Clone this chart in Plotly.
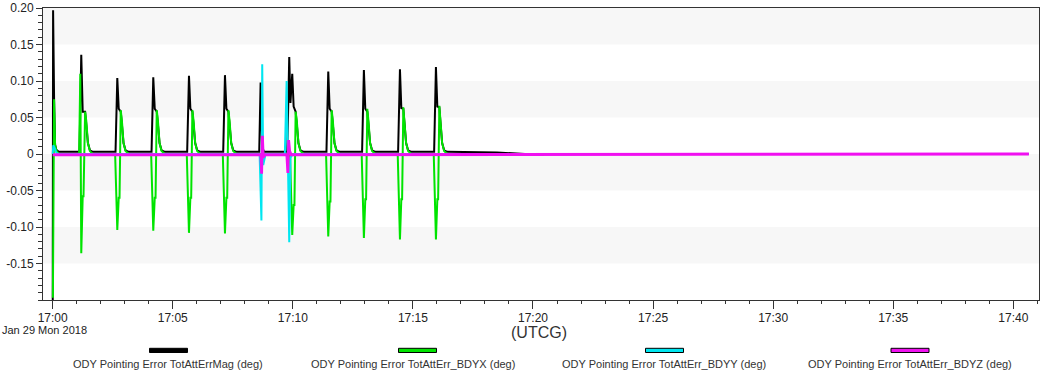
import pandas as pd
import plotly.graph_objects as go

# ---------------- data (seconds after 2018-01-29 17:00:00 UTCG, values in deg) ----------------
BASE = "2018-01-29 17:00:00"

mag_t = [0, 1, 3.5, 6, 9, 15,
         67, 71.4, 75, 81, 84, 88, 93, 100,
         157, 161.4, 165, 170, 173, 177, 182, 190,
         247, 251.3, 255, 260, 263, 267, 272, 280,
         336, 340.5, 344, 349, 352, 356, 361, 369,
         426, 430.4, 434, 439, 442, 446, 451, 459,
         516, 519.5, 523, 528,
         586, 591, 594, 598.5, 602, 607, 610, 614, 619, 627,
         684, 688.5, 692, 697, 700, 704, 709, 717,
         773, 777.5, 781, 786, 789, 793, 798, 806,
         863, 867.6, 871, 876, 879, 883, 888, 896,
         953, 957.5, 961, 966, 969, 973, 978, 986,
         1110, 1175, 1180, 2439]
mag_v = [-0.25, 0.197, 0.075, 0.013, 0.006, 0.003,
         0.003, 0.136, 0.058, 0.058, 0.040, 0.015, 0.005, 0.003,
         0.003, 0.104, 0.062, 0.058, 0.040, 0.015, 0.005, 0.003,
         0.003, 0.105, 0.062, 0.058, 0.040, 0.015, 0.005, 0.003,
         0.003, 0.107, 0.062, 0.058, 0.040, 0.015, 0.005, 0.003,
         0.003, 0.108, 0.062, 0.058, 0.040, 0.015, 0.005, 0.003,
         0.003, 0.098, 0.010, 0.003,
         0.003, 0.133, 0.070, 0.110, 0.065, 0.058, 0.040, 0.015, 0.005, 0.003,
         0.003, 0.113, 0.062, 0.058, 0.040, 0.015, 0.005, 0.003,
         0.003, 0.115, 0.062, 0.058, 0.040, 0.015, 0.005, 0.003,
         0.003, 0.116, 0.063, 0.062, 0.042, 0.015, 0.005, 0.003,
         0.003, 0.119, 0.065, 0.064, 0.042, 0.015, 0.005, 0.003,
         0.002, 0.0005, 0.0, 0.0]

bdyx_t = [0.5, 3.5, 6, 9, 15,
          66, 69, 71.4, 75, 77, 81, 84, 88, 93, 100,
          156, 161.4, 165, 167, 170, 173, 177, 182, 190,
          246, 251.3, 255, 257, 260, 263, 267, 272, 280,
          335, 340.5, 344, 346, 349, 352, 356, 361, 369,
          425, 430.4, 434, 436, 439, 442, 446, 451, 459,
          593, 598.5, 602, 604, 607, 610, 614, 619, 627,
          683, 688.5, 692, 694, 697, 700, 704, 709, 717,
          772, 777.5, 781, 783, 786, 789, 793, 798, 806,
          862, 867.6, 871, 873, 876, 879, 883, 888, 896,
          952, 957.5, 961, 963, 966, 969, 973, 978, 986,
          2439]
bdyx_v = [-0.197, 0.075, 0.012, 0.005, 0.0,
          0.0, 0.110, -0.136, -0.058, -0.058, 0.058, 0.045, 0.015, 0.004, 0.0,
          0.0, -0.104, -0.060, -0.060, 0.060, 0.045, 0.015, 0.004, 0.0,
          0.0, -0.105, -0.060, -0.060, 0.060, 0.045, 0.015, 0.004, 0.0,
          0.0, -0.108, -0.060, -0.060, 0.060, 0.045, 0.015, 0.004, 0.0,
          0.0, -0.109, -0.060, -0.060, 0.060, 0.045, 0.015, 0.004, 0.0,
          0.0, -0.111, -0.070, -0.070, 0.058, 0.045, 0.015, 0.004, 0.0,
          0.0, -0.113, -0.065, -0.065, 0.060, 0.045, 0.015, 0.004, 0.0,
          0.0, -0.115, -0.062, -0.062, 0.062, 0.045, 0.015, 0.004, 0.0,
          0.0, -0.117, -0.062, -0.062, 0.064, 0.045, 0.015, 0.004, 0.0,
          0.0, -0.117, -0.062, -0.062, 0.066, 0.045, 0.015, 0.004, 0.0,
          0.0]

bdyy_t = [0, 1.5, 5, 9, 15, 517, 521.5, 523.5, 526, 532, 580, 584.5, 591, 594, 600, 2439]
bdyy_v = [0.0, 0.012, 0.008, 0.002, 0.0, 0.0, -0.091, 0.123, -0.015, 0.0, 0.0, 0.100, -0.121, -0.005, 0.0, 0.0]

bdyz_t = [0, 520, 522, 524, 526, 530, 585, 587.5, 589.5, 592, 596, 1180, 1185, 2439]
bdyz_v = [-0.001, -0.001, -0.027, 0.025, -0.005, -0.001, -0.001, -0.026, 0.019, 0.004, -0.001, -0.001, 0.0, 0.0]

series_names = ["ODY Pointing Error TotAttErrMag (deg)",
                "ODY Pointing Error TotAttErr_BDYX (deg)",
                "ODY Pointing Error TotAttErr_BDYY (deg)",
                "ODY Pointing Error TotAttErr_BDYZ (deg)"]
series_colors = ["#000000", "#00e400", "#00e6f0", "#f010f0"]

y_tickvals = [0.20, 0.15, 0.10, 0.05, 0.0, -0.05, -0.10, -0.15]
y_ticktext = ["0.20", "0.15", "0.10", "0.05", "0", "-0.05", "-0.10", "-0.15"]
band_edges = [0.20, 0.15, 0.10, 0.05, 0.0, -0.05, -0.10, -0.15, -0.20]

# ---------------- figure ----------------
W, H = 1050, 372
L, R, T, B = 43, 1039, 8, 300
FONT = "Liberation Sans, Arial, sans-serif"
FS = 11
base = pd.Timestamp(BASE)


def to_time(ts):
    return [base + pd.to_timedelta(s, unit="s") for s in ts]


def px(xpix):
    return (xpix - L) / (R - L)


def py(ypix):
    return (B - ypix) / (B - T)


fig = go.Figure()
all_t = [mag_t, bdyx_t, bdyy_t, bdyz_t]
all_v = [mag_v, bdyx_v, bdyy_v, bdyz_v]
widths = [2, 2, 2, 2.8]
for name, col, ts, vs, w in zip(series_names, series_colors, all_t, all_v, widths):
    fig.add_trace(go.Scatter(x=to_time(ts), y=vs, mode="lines", name=name,
                             line=dict(color=col, width=w), showlegend=False))

shapes = []
# alternating background bands
for i in range(len(band_edges) - 1):
    if i % 2 == 0:
        shapes.append(dict(type="rect", xref="paper", yref="y", x0=0, x1=1,
                           y0=band_edges[i + 1], y1=band_edges[i],
                           fillcolor="#f7f7f7", line=dict(width=0), layer="below"))

annotations = []
# legend (swatch above text)
swatch_cx = [168.5, 417.5, 664.5, 910]
text_cx = [168, 412.5, 664, 910]
for name, col, scx, tcx in zip(series_names, series_colors, swatch_cx, text_cx):
    shapes.append(dict(type="rect", xref="paper", yref="paper",
                       x0=px(scx - 19), x1=px(scx + 19), y0=py(352.5), y1=py(348.3),
                       fillcolor=col, line=dict(color="#000000", width=1)))
    annotations.append(dict(text=name, xref="paper", yref="paper", x=px(tcx), y=py(364),
                            xanchor="center", yanchor="middle", showarrow=False,
                            font=dict(family=FONT, size=FS, color="#333333")))

annotations.append(dict(text="Jan 29 Mon 2018", xref="paper", yref="paper", x=px(0), y=py(329.5),
                        xanchor="left", yanchor="middle", showarrow=False,
                        font=dict(family=FONT, size=FS, color="#222222")))
annotations.append(dict(text="(UTCG)", xref="paper", yref="paper", x=px(539), y=py(332),
                        xanchor="center", yanchor="middle", showarrow=False,
                        font=dict(family=FONT, size=16, color="#333333")))

fig.update_layout(
    width=W, height=H,
    margin=dict(l=L, r=W - R, t=T, b=H - B, pad=0, autoexpand=False),
    paper_bgcolor="white", plot_bgcolor="white",
    font=dict(family=FONT, size=FS, color="#222222"),
    shapes=shapes, annotations=annotations,
    showlegend=False,
)
fig.update_xaxes(
    type="date", automargin=False,
    range=[base + pd.to_timedelta(-24.2, unit="s"), base + pd.to_timedelta(2464.2, unit="s")],
    tickformat="%H:%M", tick0=BASE, dtick=300000,
    ticks="outside", ticklen=8, tickcolor="#333333", tickwidth=1,
    ticklabelstandoff=-1,
    minor=dict(dtick=60000, tick0=BASE, ticks="outside", ticklen=3, tickcolor="#333333"),
    showline=True, linecolor="#333333", linewidth=1, mirror=True,
    showgrid=False, zeroline=False,
    tickfont=dict(family=FONT, size=FS + 1, color="#222222"),
)
fig.update_yaxes(
    range=[-0.2, 0.2], automargin=False,
    tickmode="array", tickvals=y_tickvals, ticktext=y_ticktext,
    ticks="outside", ticklen=6, tickcolor="#333333", tickwidth=1,
    minor=dict(dtick=0.01, tick0=0, ticks="outside", ticklen=4, tickcolor="#333333"),
    showline=True, linecolor="#333333", linewidth=1, mirror=True,
    showgrid=False, zeroline=False,
    tickfont=dict(family=FONT, size=FS + 1, color="#222222"),
)

fig.write_html("out.html", config={"displayModeBar": False},
               post_script="document.body.style.margin='0';document.body.style.padding='0';")
